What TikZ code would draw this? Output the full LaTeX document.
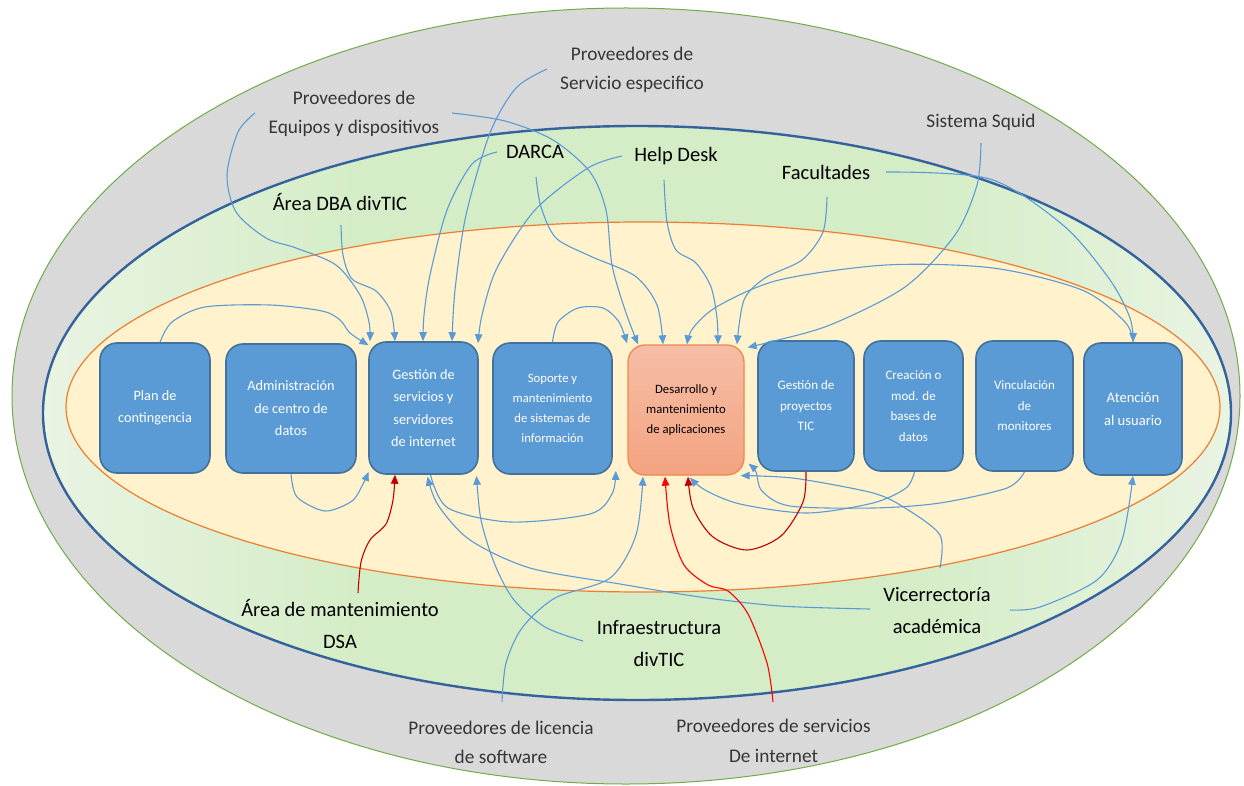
\documentclass[tikz,border=0pt]{standalone}
\usepackage{fontspec}
\setmainfont{Carlito}
\usetikzlibrary{arrows.meta}

\definecolor{ringgray}{HTML}{D9D9D9}
\definecolor{ringgreenline}{HTML}{70AD47}
\definecolor{ringblueline}{HTML}{33639A}
\definecolor{greenmid}{HTML}{D5EDC7}
\definecolor{greenedge}{HTML}{E9F4E3}
\definecolor{corefill}{HTML}{FFF2CC}
\definecolor{coreline}{HTML}{ED7D31}
\definecolor{boxfill}{HTML}{5B9BD5}
\definecolor{boxedge}{HTML}{41719C}
\definecolor{devtop}{HTML}{F5BEA6}
\definecolor{devbottom}{HTML}{F4A381}
\definecolor{devedge}{HTML}{F08A4B}
\definecolor{connblue}{HTML}{5B9BD5}
\definecolor{connred}{HTML}{FF0000}
\definecolor{conndark}{HTML}{C00000}
\definecolor{lblgray}{HTML}{363636}

% green ring: light at the far left and right, even green in between
\pgfdeclarehorizontalshading{ringgreen}{100bp}{color(0bp)=(greenedge); color(25bp)=(greenedge);
  color(38bp)=(greenmid); color(62bp)=(greenmid); color(75bp)=(greenedge); color(100bp)=(greenedge)}

\begin{document}
\begin{tikzpicture}[x=1pt,y=-1pt,
  tip/.style={-{Triangle[length=9pt,width=7.5pt]}},
  conn/.style={draw=connblue,line width=1.1pt,tip},
  connr/.style={draw=connred,line width=1.1pt,tip},
  conndr/.style={draw=conndark,line width=1.1pt,tip},
  outerlbl/.style={text=lblgray,align=center,inner sep=0pt,font=\fontsize{19.3}{29.5}\selectfont},
  innerlbl/.style={text=black,align=center,inner sep=0pt,font=\fontsize{20.5}{32}\selectfont},
  procbox/.style={rectangle,rounded corners=17pt,draw=boxedge,line width=1.6pt,fill=boxfill,
    text=white,align=center,inner sep=0pt,font=\fontsize{14.3}{22.5}\selectfont},
  smallbox/.style={procbox,font=\fontsize{13}{20.5}\selectfont},
]
\useasboundingbox (0,0) rectangle (1244,786);
\fill[white] (0,0) rectangle (1244,786);

% outer ring, middle ring and core
\draw[fill=ringgray,draw=ringgreenline,line width=1pt] (626,396) ellipse [x radius=614pt,y radius=388pt];
\shade[shading=ringgreen] (637,413) ellipse [x radius=594pt,y radius=287pt];
\draw[draw=ringblueline,line width=2.4pt] (637,413) ellipse [x radius=594pt,y radius=287pt];
\draw[fill=corefill,draw=coreline,line width=1.2pt] (643,407) ellipse [x radius=577pt,y radius=185pt];

% process boxes
\node[procbox,minimum width=110pt,minimum height=130pt] (b1) at (155,408) {Plan de\\contingencia};
\node[procbox,minimum width=130pt,minimum height=129pt] (b2) at (291,408.5) {Administración\\de centro de\\datos};
\node[procbox,minimum width=109pt,minimum height=132pt] (b3) at (423.5,408) {Gestión de\\servicios y\\servidores\\de internet};
\node[procbox,minimum width=119pt,minimum height=131pt,font=\fontsize{12.7}{20}\selectfont] (b4) at (552.5,408.5) {Soporte y\\mantenimiento\\de sistemas de\\información};
\node[procbox,minimum width=116pt,minimum height=130pt,draw=devedge,line width=1.3pt,
      top color=devtop,bottom color=devbottom,text=black,font=\fontsize{12.7}{20}\selectfont] (b5) at (686,410) {Desarrollo y\\mantenimiento\\de aplicaciones};
\node[smallbox,minimum width=96pt,minimum height=130pt] (b6) at (806,406) {Gestión de\\proyectos\\TIC};
\node[smallbox,minimum width=99pt,minimum height=130pt] (b7) at (913.5,406) {Creación o\\mod. de\\bases de\\datos};
\node[smallbox,minimum width=97pt,minimum height=130pt] (b8) at (1024.5,406) {Vinculación\\de\\monitores};
\node[procbox,minimum width=98pt,minimum height=132pt,font=\fontsize{14.6}{23}\selectfont] (b9) at (1133,409) {Atención\\al usuario};

% actors
\node[outerlbl] (equip) at (354,114) {Proveedores de\\Equipos y dispositivos};
\node[outerlbl] (servesp) at (632,70) {Proveedores de\\Servicio especifico};
\node[outerlbl] (squid) at (981,122) {Sistema Squid};
\node[outerlbl] (lic) at (501,742.5) {Proveedores de licencia\\de software};
\node[outerlbl] (isp) at (773.5,741) {Proveedores de servicios\\De internet};
\node[innerlbl] (darca) at (535,152) {DARCA};
\node[innerlbl] (help) at (676,156) {Help Desk};
\node[innerlbl] (facu) at (826,172) {Facultades};
\node[innerlbl] (dba) at (340,202) {Área DBA divTIC};
\node[innerlbl] (dsa) at (340,624) {Área de mantenimiento\\DSA};
\node[innerlbl] (infra) at (659,644) {Infraestructura\\divTIC};
\node[innerlbl] (vice) at (937,611) {Vicerrectoría\\académica};

% connectors entering from above
\draw[conn] plot[smooth] coordinates {([shift={(5,0)}]b1.north) (172,322) (205,307) (270,305) (322,311) (340,320) (350,333) ([shift={(-55,4)}]b3.north)};
\draw[conn] plot[smooth] coordinates {([shift={(-99,-1)}]equip.center) (238,132) (227,175) (236,212) (266,238) (296,248) (336,265) (360,295) (369,322) ([shift={(-53.5,0)}]b3.north)};
\draw[conn] plot[smooth] coordinates {([shift={(1,23)}]dba.center) (343,255) (352,279) (376,291) (391,312) ([shift={(-28.5,0)}]b3.north)};
\draw[conn] plot[smooth] coordinates {([shift={(-38,0)}]darca.center) (472,164) (447,210) (430,275) (424,315) ([shift={(-0.5,0)}]b3.north)};
\draw[conn] plot[smooth] coordinates {([shift={(-85,-1)}]servesp.center) (516,88) (490,133) (466,215) (455,290) ([shift={(28.5,0)}]b3.north)};
\draw[conn] plot[smooth] coordinates {([shift={(-54,0)}]help.center) (588,168) (535,210) (497,268) (482,315) ([shift={(54.5,2)}]b3.north)};
\draw[conn] plot[smooth] coordinates {(b4.north) (558,322) (578,308) (603,308) (619,322) ([shift={(-59,-1)}]b5.north)};
\draw[conn] plot[smooth] coordinates {([shift={(98,-1)}]equip.center) (505,121) (553,140) (590,172) (606,210) (612,265) (625,310) ([shift={(-48,0)}]b5.north)};
\draw[conn] plot[smooth] coordinates {([shift={(1,25)}]darca.center) (541,207) (556,238) (590,256) (635,276) (657,305) ([shift={(-23,0)}]b5.north)};
\draw[conn] plot[smooth] coordinates {(b9.north) (1125,322) (1082,290) (993,268) (886,265) (779,280) (718,306) (693,328) ([shift={(1,0)}]b5.north)};
\draw[conn] plot[smooth] coordinates {([shift={(-12,24)}]help.center) (667,222) (676,250) (696,263) (711,287) (717,318) ([shift={(32,0)}]b5.north)};
\draw[conn] plot[smooth] coordinates {([shift={(1,25)}]facu.center) (823,232) (802,260) (765,278) (744,300) ([shift={(51,0)}]b5.north)};
\draw[conn] plot[smooth] coordinates {([shift={(0,21)}]squid.center) (977,185) (955,235) (905,287) (830,325) (770,342) ([shift={(3,3)}]b5.north east)};
\draw[conn] plot[smooth] coordinates {([shift={(60,0)}]facu.center) (990,179) (1064,226) (1110,280) (1130,318) (b9.north)};

% connectors entering from below
\draw[conn] plot[smooth] coordinates {(b2.south) (297,497) (325,511) (352,501) (363,484) ([shift={(-55,-3)}]b3.south)};
\draw[conn] plot[smooth] coordinates {([shift={(-67,-2)}]vice.center) (780,606) (700,597) (620,584) (530,568) (470,540) (438,505) ([shift={(4,2)}]b3.south)};
\draw[conn] plot[smooth] coordinates {([shift={(7,0)}]b3.south) (448,508) (510,522) (590,514) (612,494) ([shift={(3,-4)}]b4.south east)};
\draw[conn] plot[smooth] coordinates {([shift={(-76,-3)}]infra.center) (545,627) (514,600) (495,565) (481,520) ([shift={(53,1)}]b3.south)};
\draw[conn] plot[smooth] coordinates {([shift={(1,-40.5)}]lic.center) (506,663) (522,628) (555,598) (610,578) (636,535) ([shift={(-43,1)}]b5.south)};
\draw[conn] plot[smooth] coordinates {([shift={(1,0)}]b7.south) (906,488) (873,503) (807,513) (740,504) (705,490) ([shift={(4,2)}]b5.south)};
\draw[conn] plot[smooth] coordinates {(b8.south) (1007,488) (940,503) (873,508) (790,506) (762,491) (756,472) ([shift={(4,-12)}]b5.south east)};
\draw[conn] plot[smooth] coordinates {([shift={(3,-43)}]vice.center) (940,535) (905,508) (873,493) (800,479) (760,476) ([shift={(-4,0)}]b5.south east)};
\draw[conn] plot[smooth] coordinates {([shift={(73,-1)}]vice.center) (1040,607) (1097,580) (1122,540) (b9.south)};
\draw[conndr] plot[smooth] coordinates {([shift={(18,-31)}]dsa.center) (361,562) (370,540) (386,524) (393,500) ([shift={(-28.5,0)}]b3.south)};
\draw[connr] plot[smooth] coordinates {([shift={(-0.5,-39)}]isp.center) (767,663) (748,614) (728,591) (708,585) (684,565) (670,525) ([shift={(-21,1)}]b5.south)};
\draw[conndr] plot[smooth] coordinates {(b6.south) (803,502) (781,536) (747,550) (713,537) (693,508) ([shift={(2,1)}]b5.south)};
\end{tikzpicture}
\end{document}
